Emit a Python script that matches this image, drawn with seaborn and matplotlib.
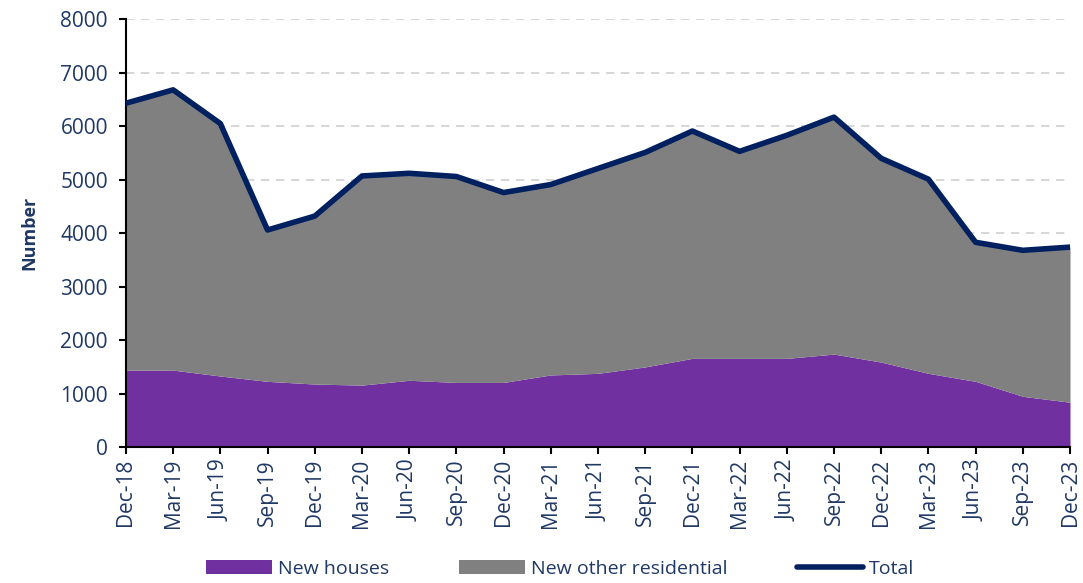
import pandas as pd
import matplotlib.pyplot as plt
import seaborn as sns

# Datos (trimestres)
quarters = ['Dec-18', 'Mar-19', 'Jun-19', 'Sep-19', 'Dec-19', 'Mar-20', 'Jun-20',
            'Sep-20', 'Dec-20', 'Mar-21', 'Jun-21', 'Sep-21', 'Dec-21', 'Mar-22',
            'Jun-22', 'Sep-22', 'Dec-22', 'Mar-23', 'Jun-23', 'Sep-23', 'Dec-23']
total = [6430, 6680, 6050, 4060, 4320, 5070, 5120, 5060, 4760, 4910, 5210,
         5510, 5910, 5530, 5830, 6170, 5400, 5010, 3830, 3680, 3740]
new_houses = [1440, 1440, 1330, 1230, 1180, 1160, 1250, 1210, 1210, 1350, 1380,
              1500, 1660, 1660, 1660, 1740, 1590, 1380, 1230, 950, 840]
new_other = [t - h for t, h in zip(total, new_houses)]

df = pd.DataFrame({'quarter': quarters, 'x': range(len(quarters)), 'Total': total})

navy = '#002060'
txt = '#1F3864'
sns.set_style('white')
plt.rcParams['font.family'] = ['Open Sans', 'DejaVu Sans']

fig = plt.figure(figsize=(10.83, 5.83), dpi=100)
ax = fig.add_axes([0.1163, 0.233, 0.8717, 0.734])

ax.stackplot(df['x'], new_houses, new_other, colors=['#7030A0', '#808080'],
             labels=['New houses', 'New other residential'], linewidth=0, zorder=2)
sns.lineplot(data=df, x='x', y='Total', color=navy, linewidth=4, label='Total',
             ax=ax, zorder=3)

ax.set_xlim(0, len(quarters) - 1)
ax.set_ylim(0, 8000)
ax.set_yticks(range(0, 8001, 1000))
ax.set_xticks(df['x'])
ax.set_xticklabels(quarters, rotation=90)
ax.yaxis.grid(True, linestyle=(0, (5, 4)), color='#D0D0D0', linewidth=1.2, zorder=0)
ax.set_axisbelow(True)

for s in ['top', 'right']:
    ax.spines[s].set_visible(False)
for s in ['left', 'bottom']:
    ax.spines[s].set_color('black')
    ax.spines[s].set_linewidth(1.5)

ax.tick_params(axis='both', which='both', direction='out', length=5, width=1.5,
               color='black', labelsize=15, labelcolor=txt, left=True, bottom=True)
ax.tick_params(axis='y', pad=8)
ax.set_xlabel('')
ax.set_ylabel('Number', fontsize=13, fontweight='bold', color=txt, labelpad=16)

ax.legend(loc='upper center', bbox_to_anchor=(0.46, -0.222), ncol=3, frameon=False,
          fontsize=14, handlelength=3.4, columnspacing=3.6, labelcolor=txt,
          handletextpad=0.3)

plt.savefig('out.png', dpi=100)
